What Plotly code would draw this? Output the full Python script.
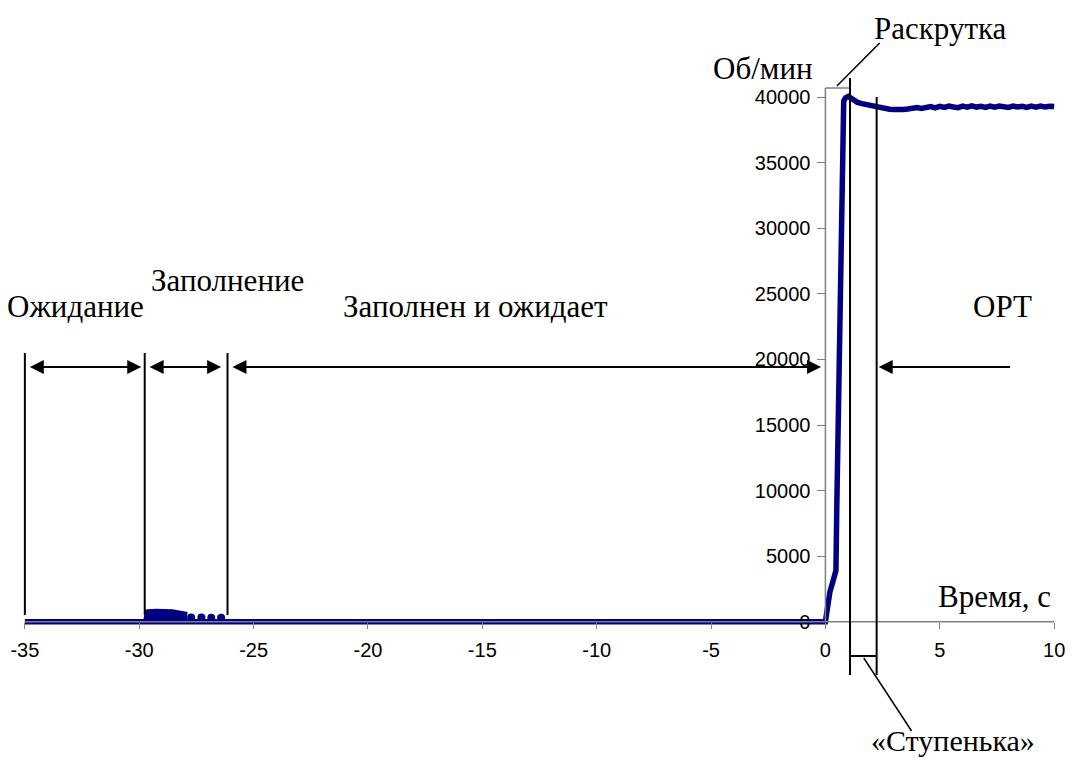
import plotly.graph_objects as go

# ---------------- data ----------------
# rotor speed, main record (time in s, speed in rpm)
time_s = [-35, 0, 0.05, 0.1, 0.2, 0.3, 0.42, 0.46, 0.5, 0.55, 0.6, 0.65, 0.7, 0.75,
          0.8, 0.88, 1.0, 1.1, 1.25, 1.4, 1.6, 1.8, 2.0, 2.2, 2.4, 2.6, 2.8, 3.0,
          3.2, 3.4, 3.6, 3.8, 4.0, 4.2, 4.4, 4.6, 4.8, 5.0, 5.2, 5.4, 5.6, 5.8,
          6.0, 6.2, 6.4, 6.6, 6.8, 7.0, 7.2, 7.4, 7.6, 7.8, 8.0, 8.2, 8.4, 8.6,
          8.8, 9.0, 9.2, 9.4, 9.6, 9.8, 10.0]
speed_rpm = [0, 0, 600, 1500, 2300, 2900, 3650, 3900, 9000, 15000, 21000, 27500, 33500, 38000,
             39700, 39950, 40050, 39950, 39750, 39600, 39500, 39420, 39330, 39250, 39180, 39120, 39080, 39060,
             39020, 39050, 39090, 39150, 39200, 39130, 39240, 39280, 39180, 39300, 39220, 39320, 39250, 39200,
             39310, 39230, 39330, 39240, 39300, 39210, 39310, 39240, 39320, 39260, 39220, 39320, 39250, 39300,
             39220, 39310, 39240, 39320, 39250, 39300, 39280]

# small bump during filling
fill_time = [-29.72, -29.65, -29.3, -28.9, -28.55, -28.2, -27.9]
fill_rpm = [0, 760, 800, 790, 760, 660, 560]
drop_time = [-27.73, -27.28, -26.85, -26.42]
drop_rpm = [330, 320, 310, 300]

x_ticks = [-35, -30, -25, -20, -15, -10, -5, 0, 5, 10]
y_ticks = [0, 5000, 10000, 15000, 20000, 25000, 30000, 35000, 40000]

# phase boundaries (s)
t_wait_start, t_fill_start, t_fill_end = -35, -29.76, -26.14
t_spin_end, t_step_end = 1.076, 2.24

labels = ["Ожидание", "Заполнение", "Заполнен и ожидает", "ОРТ",
          "Раскрутка", "Об/мин", "Время, с", "«Ступенька»"]

# ---------------- layout geometry ----------------
W, H = 1072, 760
ML, MR, MT, MB = 18, 7, 84, 133
PW, PH = W - ML - MR, H - MT - MB
XR = [-35.3, 10.3]
YR = [-400, 41000]

def tx(t):
    return (t - XR[0]) / (XR[1] - XR[0])

def vy(v):
    return (v - YR[0]) / (YR[1] - YR[0])

def fx(px):
    return (px - ML) / PW

def fy(py):
    return (MT + PH - py) / PH

NAVY = "#000080"
GRAY = "#808080"
SERIF = "Liberation Serif, Times New Roman, serif"
SANS = "Liberation Sans, Arial, sans-serif"

fig = go.Figure()
fig.add_trace(go.Scatter(x=time_s, y=speed_rpm, mode="lines",
                         line=dict(color=NAVY, width=5.5), hoverinfo="skip"))
fig.add_trace(go.Scatter(x=fill_time, y=fill_rpm, mode="lines", fill="tozeroy",
                         fillcolor=NAVY, line=dict(color=NAVY, width=5), hoverinfo="skip"))
fig.add_trace(go.Scatter(x=drop_time, y=drop_rpm, mode="markers",
                         marker=dict(color=NAVY, size=8), hoverinfo="skip"))

shapes = []
def seg(x0, y0, x1, y1, color="black", width=2):
    shapes.append(dict(type="line", xref="paper", yref="paper", x0=x0, y0=y0, x1=x1, y1=y1,
                       line=dict(color=color, width=width)))

# axis lines
seg(tx(-35), vy(0), tx(10), vy(0), GRAY, 1.5)
seg(tx(0), vy(0), tx(0), fy(88), GRAY, 1.5)
seg(tx(0), fy(88), tx(t_spin_end), fy(88), GRAY, 1.5)
# phase boundary lines
for t in (t_wait_start, t_fill_start, t_fill_end):
    seg(tx(t), fy(353), tx(t), fy(615))
seg(tx(t_spin_end), fy(78), tx(t_spin_end), fy(675))
seg(tx(t_step_end), fy(97), tx(t_step_end), fy(675))
seg(tx(t_spin_end), fy(656), tx(t_step_end), fy(656))
# leader lines
seg(fx(840), fy(86), fx(883), fy(43), "black", 1.5)
seg(fx(867), fy(658), fx(915), fy(731), "black", 1.5)

annotations = []
ARROW_Y = 19420
d = 0.15
def arrow(t_from, t_to, both):
    annotations.append(dict(xref="x", yref="y", axref="x", ayref="y",
                            x=t_to - d, y=ARROW_Y, ax=t_from + (d if both else 0), ay=ARROW_Y,
                            text="", showarrow=True, arrowhead=2, arrowsize=1.4, arrowwidth=2,
                            arrowcolor="black", standoff=0,
                            arrowside="end+start" if both else "end",
                            startarrowhead=2, startarrowsize=1.4, startstandoff=0))

arrow(-35, -29.76, True)
arrow(-29.76, -26.27, True)
arrow(-26.14, -0.04, True)
arrow(8.14, 2.18 + 2 * d, False)

text_pos = [(6, 306), (151, 280), (343, 306), (976, 306),
            (876, 28), (715, 68), (941, 596), (873, 740)]
for lab, (px, py) in zip(labels, text_pos):
    annotations.append(dict(xref="paper", yref="paper", x=fx(px), y=fy(py),
                            xanchor="left", yanchor="middle", showarrow=False, text=lab,
                            borderpad=0,
                            font=dict(family=SERIF, size=30 if lab.startswith("«") else 31,
                                      color="black")))

fig.update_layout(
    width=W, height=H,
    margin=dict(l=ML, r=MR, t=MT, b=MB),
    plot_bgcolor="white", paper_bgcolor="white",
    showlegend=False,
    shapes=shapes, annotations=annotations,
    xaxis=dict(range=XR, tickvals=x_ticks, ticktext=[str(v) for v in x_ticks],
               ticks="outside", ticklen=6, tickcolor=GRAY, tickwidth=1.3,
               ticklabelstandoff=4,
               showgrid=False, zeroline=False, showline=False,
               anchor="free", position=vy(0),
               tickfont=dict(family=SANS, size=20, color="black")),
    yaxis=dict(range=YR, tickvals=y_ticks, ticktext=[str(v) for v in y_ticks],
               ticks="outside", ticklen=8, tickcolor=GRAY, tickwidth=1.3,
               ticklabelstandoff=3,
               showgrid=False, zeroline=False, showline=False,
               anchor="free", position=tx(0),
               tickfont=dict(family=SANS, size=20, color="black")),
)

fig.write_html("out.html", config={"displayModeBar": False},
               post_script="document.body.style.margin='0px';document.body.style.overflow='hidden';")
